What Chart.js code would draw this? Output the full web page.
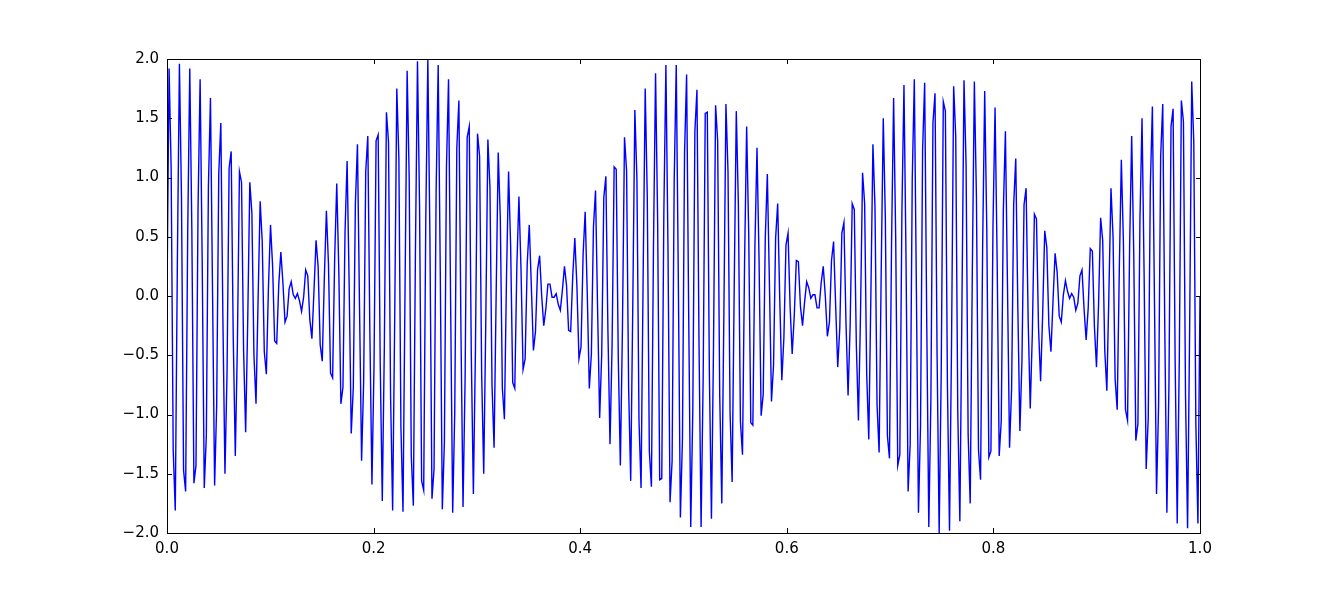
<!DOCTYPE html>
<html>
<head>
<meta charset="utf-8">
<script src="https://cdn.jsdelivr.net/npm/chart.js@4.4.1/dist/chart.umd.min.js"></script>
<style>
html,body{margin:0;padding:0;background:#ffffff;}
#wrap{width:1333px;height:593px;}
</style>
</head>
<body>
<div id="wrap"><canvas id="c" width="1333" height="593"></canvas></div>
<script>
// Signal samples (500 points, evenly spaced from t = 0 to t = 1)
const signal = [
0, 1.92, 1.08, -1.30, -1.81, .27, 1.96, .83, -1.47, -1.65,
.53, 1.92, .56, -1.58, -1.43, .75, 1.83, .29, -1.62, -1.18,
.92, 1.67, .03, -1.60, -.92, 1.03, 1.46, -.19, -1.50, -.65,
1.08, 1.22, -.35, -1.35, -.41, 1.05, .96, -.46, -1.15, -.20,
.96, .70, -.50, -.91, -.03, .80, .46, -.47, -.66, .07,
.60, .26, -.38, -.40, .10, .37, .11, -.22, -.17, .06,
.12, .01, -.02, .02, -.04, -.13, -.01, .22, .17, -.20,
-.36, .04, .47, .25, -.41, -.55, .15, .72, .27, -.65,
-.69, .32, .95, .21, -.91, -.77, .54, 1.14, .09, -1.16,
-.77, .78, 1.28, -.09, -1.39, -.72, 1.05, 1.35, -.31, -1.59,
-.59, 1.31, 1.36, -.57, -1.73, -.41, 1.55, 1.30, -.84, -1.81,
-.18, 1.75, 1.17, -1.11, -1.82, .09, 1.90, .99, -1.35, -1.77,
.36, 1.98, .76, -1.56, -1.64, .63, 2.00, .50, -1.71, -1.46,
.88, 1.95, .22, -1.80, -1.23, 1.09, 1.83, -.05, -1.83, -.98,
1.25, 1.65, -.30, -1.78, -.70, 1.34, 1.43, -.50, -1.67, -.44,
1.37, 1.18, -.66, -1.50, -.20, 1.32, .92, -.75, -1.28, .01,
1.21, .66, -.78, -1.04, .16, 1.05, .42, -.73, -.78, .25,
.84, .23, -.62, -.53, .27, .60, .08, -.46, -.30, .22,
.34, .00, -.25, -.11, .10, .10, -.01, -.01, .02, -.07,
-.12, .05, .25, .09, -.29, -.30, .17, .49, .09, -.53,
-.43, .35, .71, .03, -.78, -.49, .58, .89, -.11, -1.03,
-.49, .83, 1.01, -.30, -1.25, -.42, 1.09, 1.07, -.53, -1.43,
-.28, 1.34, 1.06, -.78, -1.56, -.08, 1.57, .99, -1.05, -1.62,
.16, 1.75, .84, -1.31, -1.61, .42, 1.88, .65, -1.55, -1.54,
.69, 1.95, .41, -1.74, -1.39, .96, 1.95, .14, -1.87, -1.20,
1.20, 1.87, -.14, -1.95, -.96, 1.39, 1.74, -.41, -1.95, -.69,
1.54, 1.55, -.65, -1.88, -.42, 1.61, 1.31, -.84, -1.75, -.16,
1.62, 1.05, -.99, -1.57, .08, 1.56, .78, -1.06, -1.34, .28,
1.43, .53, -1.07, -1.09, .42, 1.25, .30, -1.01, -.83, .49,
1.03, .11, -.89, -.58, .49, .78, -.03, -.71, -.35, .43,
.53, -.09, -.49, -.17, .30, .29, -.09, -.25, -.05, .12,
.07, -.02, .01, .01, -.10, -.10, .11, .25, .00, -.34,
-.22, .30, .46, -.08, -.60, -.27, .53, .62, -.23, -.84,
-.25, .78, .73, -.42, -1.05, -.16, 1.04, .78, -.66, -1.21,
-.01, 1.28, .75, -.92, -1.32, .20, 1.50, .66, -1.18, -1.37,
.44, 1.67, .50, -1.43, -1.34, .70, 1.78, .30, -1.65, -1.25,
.98, 1.83, .05, -1.83, -1.09, 1.23, 1.80, -.22, -1.95, -.88,
1.46, 1.71, -.50, -2.00, -.63, 1.64, 1.56, -.76, -1.98, -.36,
1.77, 1.35, -.99, -1.90, -.09, 1.82, 1.11, -1.17, -1.75, .18,
1.81, .84, -1.30, -1.55, .41, 1.73, .57, -1.36, -1.31, .59,
1.59, .31, -1.35, -1.05, .72, 1.39, .09, -1.28, -.78, .77,
1.16, -.09, -1.14, -.54, .77, .91, -.21, -.95, -.32, .69,
.65, -.27, -.72, -.15, .55, .41, -.25, -.47, -.04, .36,
.20, -.17, -.22, .01, .13, .04, -.02, .02, -.01, -.12,
-.06, .17, .22, -.11, -.37, -.10, .40, .38, -.26, -.60,
-.07, .66, .47, -.46, -.80, .03, .91, .50, -.70, -.96,
.20, 1.15, .46, -.96, -1.05, .41, 1.35, .35, -1.22, -1.08,
.65, 1.50, .19, -1.46, -1.03, .92, 1.60, -.03, -1.67, -.92,
1.18, 1.62, -.29, -1.83, -.75, 1.43, 1.58, -.56, -1.92, -.53,
1.65, 1.47, -.83, -1.96, -.27, 1.81, 1.30, -1.08, -1.92, 0
];
const tStart = 0;
const tEnd = 1;
const xTicks = [0, 0.2, 0.4, 0.6, 0.8, 1.0];
const yTicks = [-2, -1.5, -1, -0.5, 0, 0.5, 1, 1.5, 2];

const points = signal.map((v, i) => ({ x: tStart + (tEnd - tStart) * i / (signal.length - 1), y: v }));
const fmt = v => (v < 0 ? '\u2212' : '') + Math.abs(v).toFixed(1);

const frame = {
  id: 'frame',
  afterDraw(chart) {
    const { ctx, chartArea: a, scales: { x, y } } = chart;
    ctx.save();
    ctx.strokeStyle = '#000000';
    ctx.lineWidth = 1;
    ctx.strokeRect(a.left + 0.5, a.top + 0.5, a.right - a.left, a.bottom - a.top);
    const L = 5;
    ctx.beginPath();
    xTicks.forEach(v => {
      const px = Math.round(x.getPixelForValue(v)) + 0.5;
      ctx.moveTo(px, a.bottom); ctx.lineTo(px, a.bottom - L);
      ctx.moveTo(px, a.top); ctx.lineTo(px, a.top + L);
    });
    yTicks.forEach(v => {
      const py = Math.round(y.getPixelForValue(v)) + 0.5;
      ctx.moveTo(a.left, py); ctx.lineTo(a.left + L, py);
      ctx.moveTo(a.right + 1, py); ctx.lineTo(a.right + 1 - L, py);
    });
    ctx.stroke();
    ctx.restore();
  }
};

const tickFont = { family: 'DejaVu Sans', size: 15 };

new Chart(document.getElementById('c'), {
  type: 'line',
  data: {
    datasets: [{
      data: points,
      borderColor: '#0000ff',
      borderWidth: 1.4,
      pointRadius: 0,
      fill: false,
      tension: 0
    }]
  },
  options: {
    responsive: false,
    animation: false,
    events: [],
    layout: { padding: { left: 0, right: 133, top: 59, bottom: 0 } },
    plugins: { legend: { display: false }, tooltip: { enabled: false } },
    scales: {
      x: {
        type: 'linear', min: 0, max: 1,
        afterBuildTicks: s => { s.ticks = xTicks.map(v => ({ value: v })); },
        afterFit: s => { s.height = 60; },
        grid: { display: false, drawTicks: false },
        border: { display: false },
        ticks: { callback: v => fmt(v), font: tickFont, color: '#000000', padding: 7, maxRotation: 0, autoSkip: false }
      },
      y: {
        type: 'linear', min: -2, max: 2,
        afterBuildTicks: s => { s.ticks = yTicks.map(v => ({ value: v })); },
        afterFit: s => { s.width = 167; },
        grid: { display: false, drawTicks: false },
        border: { display: false },
        ticks: { callback: v => fmt(v), font: tickFont, color: '#000000', padding: 8, autoSkip: false }
      }
    }
  },
  plugins: [frame]
});
</script>
</body>
</html>
